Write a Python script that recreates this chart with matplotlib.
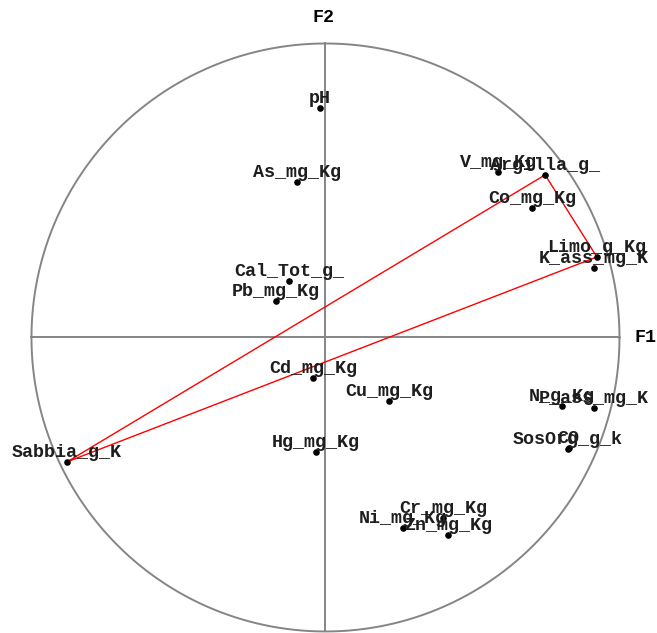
import numpy as np
import matplotlib
matplotlib.use("Agg")
import matplotlib.pyplot as plt

# Variable loadings on the first two factors (correlation circle)
variables = [
    "pH", "As_mg_Kg", "V_mg_Kg", "Argilla_g_", "Co_mg_Kg", "Limo_g_Kg",
    "K_ass_mg_K", "Cal_Tot_g_", "Pb_mg_Kg", "Cd_mg_Kg", "Cu_mg_Kg",
    "Hg_mg_Kg", "Sabbia_g_K", "N_g_Kg", "P_ass_mg_K", "SosOrg_g_k",
    "CO", "Ni_mg_Kg", "Cr_mg_Kg", "Zn_mg_Kg",
]
f1 = [-0.019, -0.097, 0.587, 0.747, 0.702, 0.923,
      0.913, -0.124, -0.168, -0.043, 0.216,
      -0.032, -0.879, 0.804, 0.913, 0.825,
      0.827, 0.264, 0.401, 0.417]
f2 = [0.781, 0.529, 0.563, 0.553, 0.440, 0.274,
      0.236, 0.192, 0.124, -0.138, -0.216,
      -0.389, -0.423, -0.233, -0.240, -0.379,
      -0.377, -0.648, -0.614, -0.672]

# Texture triangle: sand -> clay -> silt -> sand
triangle = ["Sabbia_g_K", "Argilla_g_", "Limo_g_Kg", "Sabbia_g_K"]

fig = plt.figure(figsize=(6.57, 6.33), dpi=100)
ax = fig.add_axes([0.0479, 0.0024, 0.8950, 0.9289])
ax.set_xlim(-1, 1)
ax.set_ylim(-1, 1)
ax.axis("off")

grey = "#858585"
theta = np.linspace(0, 2 * np.pi, 721)
ax.plot(np.cos(theta), np.sin(theta), color=grey, lw=1.4, clip_on=False)
ax.plot([-1, 1], [0, 0], color=grey, lw=1.4, clip_on=False)
ax.plot([0, 0], [-1, 1], color=grey, lw=1.4, clip_on=False)

idx = {name: i for i, name in enumerate(variables)}
tx = [f1[idx[n]] for n in triangle]
ty = [f2[idx[n]] for n in triangle]
ax.plot(tx, ty, color="red", lw=1.0, zorder=3)

ax.scatter(f1, f2, s=14, color="black", zorder=4, clip_on=False)

font = dict(family="Liberation Mono", weight="bold", size=13.2, color="#1e1e1e")
for name, x, y in zip(variables, f1, f2):
    ax.annotate(name, (x, y), xytext=(0, 3.6), textcoords="offset points",
                ha="center", va="baseline", zorder=5, annotation_clip=False, **font)

ax.text(1.09, 0.0, "F1", ha="center", va="center",
        family="Liberation Mono", weight="bold", size=13.2, clip_on=False)
ax.text(-0.008, 1.09, "F2", ha="center", va="center",
        family="Liberation Mono", weight="bold", size=13.2, clip_on=False)

fig.savefig("out.png", dpi=100)
